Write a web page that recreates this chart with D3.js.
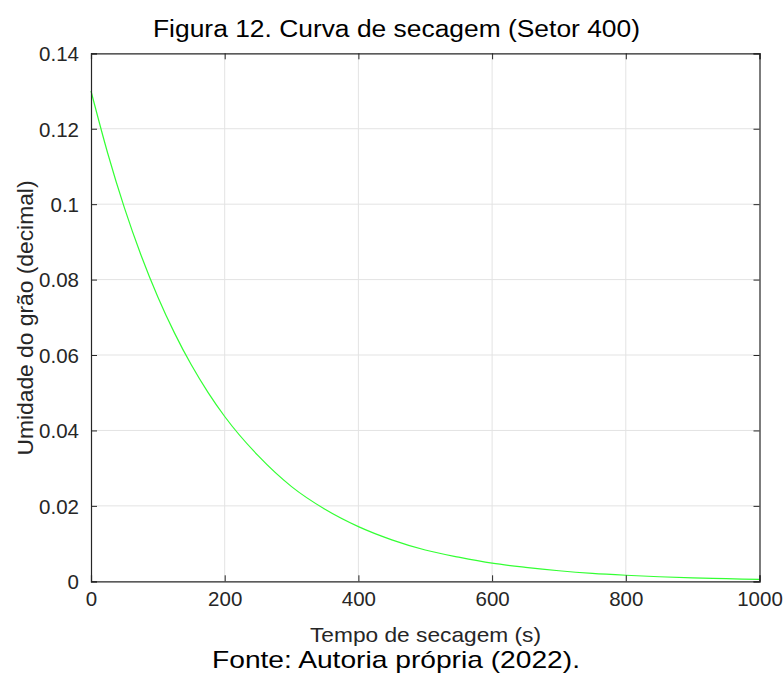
<!DOCTYPE html>
<html><head><meta charset="utf-8">
<script src="https://cdn.jsdelivr.net/npm/d3@7"></script>
<style>body{margin:0;background:#fff;} text{font-family:"Liberation Sans",Arial,sans-serif;}</style>
</head><body>
<svg id="c" width="783" height="677"></svg>
<script>
const timeS = [0,25,50,75,100,125,150,175,200,250,300,350,400,450,500,550,600,650,700,750,800,850,900,950,1000];
const moisture = [0.130,0.1135,0.0990,0.0864,0.0754,0.0658,0.0574,0.0501,0.0437,0.0333,0.0251,0.0191,0.0145,0.0110,0.0083,0.0064,0.0048,0.0037,0.0028,0.0021,0.0016,0.0012,0.0009,0.0007,0.0005];
const xTicks = [0,200,400,600,800,1000];
const yTicks = [0,0.02,0.04,0.06,0.08,0.1,0.12,0.14];
const yTickLabels = ["0","0.02","0.04","0.06","0.08","0.1","0.12","0.14"];
const titleText = "Figura 12. Curva de secagem (Setor 400)";
const xLabel = "Tempo de secagem (s)";
const yLabel = "Umidade do grão (decimal)";
const sourceText = "Fonte: Autoria própria (2022).";

const L=91, R=759.5, T=53.3, B=581.3;
const svg = d3.select("#c");
const x = d3.scaleLinear().domain([0,1000]).range([L,R]);
const y = d3.scaleLinear().domain([0,0.14]).range([B,T]);
const axCol = "#262626";

// grid
svg.append("g").selectAll("line").data(xTicks.slice(1,-1)).join("line")
  .attr("x1",d=>x(d)).attr("x2",d=>x(d)).attr("y1",T).attr("y2",B)
  .attr("stroke","#e3e3e3").attr("stroke-width",1);
svg.append("g").selectAll("line").data(yTicks.slice(1,-1)).join("line")
  .attr("y1",d=>y(d)).attr("y2",d=>y(d)).attr("x1",L).attr("x2",R)
  .attr("stroke","#e3e3e3").attr("stroke-width",1);

// curve
const line = d3.line().x((d,i)=>x(timeS[i])).y(d=>y(d)).curve(d3.curveMonotoneX);
svg.append("path").datum(moisture).attr("d",line).attr("fill","none")
  .attr("stroke","#33ff33").attr("stroke-width",1.2);

// axes
const xa = svg.append("g").attr("transform",`translate(0,${B})`)
  .call(d3.axisBottom(x).tickValues(xTicks).tickSize(-6).tickPadding(10).tickFormat(d3.format("d")));
const ya = svg.append("g").attr("transform",`translate(${L},0)`)
  .call(d3.axisLeft(y).tickValues(yTicks).tickSize(-6).tickPadding(12).tickFormat((d,i)=>yTickLabels[i]));
const xt = svg.append("g").attr("transform",`translate(0,${T})`)
  .call(d3.axisTop(x).tickValues(xTicks).tickSize(-6).tickFormat(""));
const yr = svg.append("g").attr("transform",`translate(${R},0)`)
  .call(d3.axisRight(y).tickValues(yTicks).tickSize(-6).tickFormat(""));
[xa,ya,xt,yr].forEach(g=>{
  g.select(".domain").attr("stroke",axCol).attr("stroke-width",1.2);
  g.selectAll(".tick line").attr("stroke",axCol);
  g.selectAll(".tick text").attr("fill",axCol).style("font-size","20.5px").style("font-family","Liberation Sans, Arial, sans-serif");
});
xa.selectAll(".tick text").attr("dy","0.71em");
ya.selectAll(".tick text").attr("dy","0.36em");

svg.append("text").attr("x",396.5).attr("y",36.5).attr("text-anchor","middle")
  .style("font-size","23px").attr("textLength",487).attr("lengthAdjust","spacingAndGlyphs")
  .attr("fill","#000").text(titleText);
svg.append("text").attr("x",425.5).attr("y",642).attr("text-anchor","middle")
  .style("font-size","21px").attr("textLength",231).attr("lengthAdjust","spacingAndGlyphs")
  .attr("fill",axCol).text(xLabel);
svg.append("text").attr("transform",`translate(32.5,318) rotate(-90)`).attr("text-anchor","middle")
  .style("font-size","22px").attr("textLength",275).attr("lengthAdjust","spacingAndGlyphs")
  .attr("fill",axCol).text(yLabel);
svg.append("text").attr("x",396).attr("y",668).attr("text-anchor","middle")
  .style("font-size","24px").attr("textLength",368).attr("lengthAdjust","spacingAndGlyphs")
  .attr("fill","#000").text(sourceText);
</script>
</body></html>
